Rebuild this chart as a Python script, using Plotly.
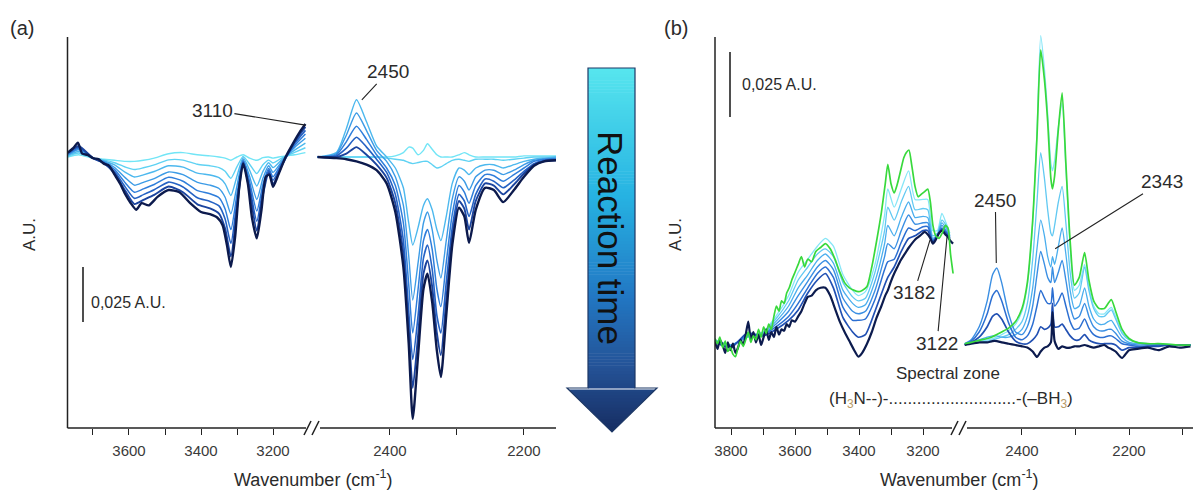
import plotly.graph_objects as go

W, H = 1193, 490

# ---------------- panel (a): spectra along the reaction (light -> dark) ----------------
wn_a_left = [3770, 3740, 3700, 3670, 3640, 3610, 3585, 3560, 3530, 3490, 3450, 3410, 3375,
             3350, 3333, 3317, 3300, 3283, 3265, 3245, 3228, 3212, 3200, 3175, 3140, 3110]
a0_left = [0, 1, -0.5, -1, -1.5, -2, -2, -1.5, -0.5, 1.5, 2, 1, 0.5, 0, -0.5, -1.5, 0, 1, -0.5,
           -1.5, -0.3, 0, -0.5, 0.3, 1, 2]
a1_left = [0.3, 1.8, -0.5, -1.3, -2.6, -4.6, -5.7, -4.9, -3.6, -1.3, -1.4, -3.3, -4.0, -4.8, -6.5,
           -9.7, -4.4, 0.3, -3.3, -7.5, -3.5, -1.4, -2.7, -0.4, 2.1, 4.2]
a2_left = [0.7, 2.5, -0.5, -1.7, -3.6, -7.0, -9.1, -8.1, -6.6, -4.0, -4.6, -7.3, -8.2, -9.4, -12.2,
           -17.5, -8.6, -0.3, -6.0, -13.2, -6.5, -2.6, -4.8, -1.1, 3.1, 6.3]
a3_left = [1.0, 3.3, -0.5, -2.0, -4.8, -9.5, -12.8, -11.5, -9.8, -6.8, -8.0, -11.5, -12.8, -14.3,
           -18.3, -25.8, -13.0, -1.0, -8.8, -19.3, -9.7, -4.0, -7.0, -1.9, 4.3, 8.5]
a4_left = [1.3, 3.9, -0.5, -2.3, -5.7, -11.8, -16.0, -14.5, -12.5, -9.2, -11.0, -15.3, -16.7,
           -18.5, -23.6, -33.0, -16.9, -1.6, -11.2, -24.6, -12.5, -5.2, -9.0, -2.5, 5.2, 10.5]
a5_left = [1.6, 4.5, -0.5, -2.6, -6.6, -13.7, -18.8, -17.1, -14.9, -11.4, -13.6, -18.5, -20.2,
           -22.2, -28.2, -39.3, -20.3, -2.1, -13.4, -29.2, -14.9, -6.2, -10.6, -3.1, 6.1, 12.1]
a6_left = [1.8, 5.0, -0.5, -2.8, -7.4, -15.5, -21.4, -19.5, -17.2, -13.4, -16.0, -21.5, -23.4,
           -25.7, -32.5, -45.2, -23.4, -2.6, -15.4, -33.5, -17.1, -7.2, -12.2, -3.8, 6.9, 13.7]

wn_a_left_last = [3770, 3755, 3742, 3730, 3715, 3700, 3685, 3670, 3655, 3640, 3625, 3610, 3595,
                  3580, 3565, 3545, 3520, 3490, 3460, 3430, 3400, 3375, 3355, 3340, 3328, 3317,
                  3305, 3294, 3283, 3270, 3258, 3245, 3232, 3220, 3210, 3200, 3185, 3165, 3145,
                  3125, 3110]
a7_left = [2, 4, 6.5, 1.5, 1, -0.5, -1, -3, -4, -8, -12, -17, -21, -24, -21, -22, -18, -15, -16,
           -21, -25, -26, -27.5, -31, -40, -50, -36, -14, -3, -12, -28, -37, -24, -9, -8, -13.5,
           -8, 0, 6, 11.5, 15]

wn_a_right = [2508, 2480, 2465, 2450, 2435, 2420, 2405, 2392, 2380, 2372, 2366, 2358, 2350, 2344,
              2337, 2330, 2324, 2316, 2307, 2297, 2289, 2282, 2272, 2258, 2245, 2231, 2215, 2200,
              2185, 2170, 2152]
a0_right = [0, 0, 0, 0, 0, 0, 0, 0.5, 2, 4.5, 4, 1, 3, 6, 3.5, 1, 0, 0, 0, 1, 2, 1, 0, 0, 0, 0, 0,
            0.5, 0.5, 0.5, 0.5]
a1_right = [0, 0, 0, 0, 0, 0, -0.5, -1, -1.5, -2.5, -3, -2.5, -2, -2, -3.5, -5, -4.5, -3, -1.5, -1,
            -1.5, -2, -1, -1, -1, -1.5, -1, -0.5, 0, 0, 0]
a2_right = [0, 2, 13, 26, 16, 5, 0, -5, -14, -30, -40, -32, -22, -19, -24, -33, -38, -27, -12, -5,
            -6, -8, -5, -3.5, -3.5, -5, -3.5, -2, -1, -0.5, 0]
a3_right = [0, 1.5, 10, 20, 12, 3, -2, -9, -22, -45, -65, -48, -30, -25, -33, -47, -55, -38, -19,
            -9, -11, -15, -9, -6, -6, -8, -6, -3.5, -1.5, -1, -0.5]
a4_right = [0, 1, 7, 14, 8, 1, -5, -13, -30, -58, -80, -60, -38, -33, -42, -60, -68, -48, -26, -13,
            -16, -21, -13, -8, -8.5, -11, -8, -5, -2, -1, -1]
a5_right = [0, 0.5, 4, 9, 4.5, -1, -7, -17, -38, -70, -92, -72, -46, -40, -51, -72, -80, -57, -32,
            -17, -20, -27, -17, -10, -11, -14, -10.5, -6.5, -3, -1.5, -1]
a6_right = [0, 0, 1.5, 4.5, 1, -3.5, -9.5, -21, -44, -78, -105, -81, -53, -47, -59, -80, -90, -65,
            -36, -20, -23.5, -33, -20, -12, -13, -17, -12.5, -7.5, -3.5, -2, -1.5]
a7_right = [0, -0.5, -1, -2, -3.5, -6, -12, -25, -50, -85, -119, -90, -60, -53, -66, -88, -100, -72,
            -40, -23, -27, -39, -24, -14, -15, -20.5, -15, -9, -4, -2, -1.5]

a_colors = ["#72e5f6", "#5fd2f3", "#4cb8ee", "#3c9be6", "#2f7edb", "#2562c4", "#1b449f", "#0c1a4d"]
a_widths = [1.4, 1.4, 1.4, 1.4, 1.5, 1.6, 1.9, 2.4]

# ---------------- panel (b) ----------------
wn_b_left_fine = [3850, 3842, 3835, 3826, 3818, 3810, 3802, 3794, 3786, 3778, 3770, 3762, 3754,
                  3746, 3738, 3730, 3722, 3714, 3706, 3698, 3690, 3682, 3674, 3666, 3658, 3650,
                  3642, 3634, 3626, 3618, 3610, 3600, 3590, 3580, 3570, 3560, 3548, 3535, 3520,
                  3505, 3490, 3475, 3460, 3445, 3430, 3415, 3402, 3390, 3375, 3360, 3345, 3330,
                  3318, 3310, 3300, 3290, 3280, 3270, 3260, 3252, 3244, 3235, 3225, 3215, 3205,
                  3195, 3185, 3177, 3169, 3160, 3150, 3140, 3130, 3122, 3114, 3106]
green_left = [2.5, 0.5, 3, -1, 1.5, -2.5, -1, -3.5, -4.5, -1,
              1.5, -0.5, 2, 5, 1, 3.5, 2, 6, 3, 7,
              4.5, 8, 6, 11, 15, 13, 17, 16, 20, 22,
              25, 28, 31, 34, 30, 33, 32, 36, 37.5, 39,
              37, 33, 28, 24, 22, 21, 20.5, 21, 22.5, 30,
              40, 51, 62, 69.5, 62, 58.5, 62, 67, 72, 74,
              75, 69, 61, 57, 58, 59, 60, 55, 46, 42,
              41, 43, 46, 45, 35, 27.5]
b7_left = [1, -1.5, 2, 0, -3, 1, -2, 0.5, -3, -1,
           2, 0, 4, 9, 2, 5, 1, 4, 0, 3,
           6, 2, 5, 3, 7, 4, 6, 5.5, 8, 7,
           9.5, 9, 11, 13, 16, 18.5, 19, 21, 22, 22,
           19, 14, 9, 5, 1.5, -2, -4.5, -3, 0.5, 5,
           10.5, 15, 19, 21, 24.5, 27.5, 30, 32.5, 34.5, 36,
           37.5, 39, 40.5, 41.5, 42.5, 43.5, 42.5, 41, 39, 40.5,
           43, 44, 42.5, 41.5, 40, 39]

wn_b_left = [3850, 3800, 3750, 3700, 3660, 3620, 3590, 3560, 3530, 3505, 3480, 3450, 3420, 3402,
             3380, 3350, 3320, 3310, 3290, 3268, 3245, 3225, 3200, 3185, 3170, 3155, 3141, 3128,
             3116]
b1_left = [2, 0, 3, 5, 11, 19, 28, 33, 38, 41, 38, 27, 21, 19, 20.5, 31, 50, 60, 53, 60, 67, 56,
           56, 56, 44, 44, 50.6, 47, 43]
b2_left = [2, 0, 3, 5, 10, 17, 25, 30, 35, 37, 34, 24, 18.5, 17, 18, 28, 44, 53, 48, 55, 61, 52,
           52.5, 52, 42, 43, 48, 46, 42]
b3_left = [1.5, 0, 3, 4.5, 9, 15, 22, 27, 32.5, 35, 31.5, 21, 16, 14.5, 15.5, 24.5, 39, 46, 42,
           49, 55, 49, 49.5, 49, 41, 42.5, 47, 45, 42]
b4_left = [1.5, -0.5, 3.5, 4, 8, 13, 19, 24.5, 30, 32.5, 29, 18, 13, 12, 13, 21, 34, 39, 37, 44,
           50, 46.5, 47, 47, 40.5, 42, 46, 44, 41.5]
b5_left = [1, -0.5, 4, 4, 7, 11, 16, 22, 27.5, 30, 26, 14.5, 9.5, 9.5, 10, 17.5, 29, 32, 33, 39.5,
           45, 44, 45.5, 45.5, 40, 42, 45, 43.5, 41]
b6_left = [1, -1, 4.5, 3.5, 6, 9.5, 13.5, 20, 25, 27.5, 22, 10.5, 5, 3, 4, 13, 23, 26, 30, 36, 41,
           42, 44, 44, 39.5, 42, 44.5, 43, 41]

wn_b_right = [2507, 2495, 2480, 2465, 2455, 2447, 2438, 2425, 2412, 2400, 2390, 2380, 2372, 2365,
              2358, 2352, 2346, 2343, 2339, 2332, 2325, 2318, 2310, 2302, 2293, 2283, 2275, 2266,
              2256, 2246, 2239, 2233, 2225, 2213, 2200, 2185, 2165, 2145, 2125, 2105, 2085]
green_right = [0.5, 1, 1.8, 2.5, 3.2, 4, 5, 6.5, 9, 14, 24, 48, 80, 113.5, 102, 86, 64, 60, 65, 83,
               97, 70, 40, 23, 26, 35.5, 25, 17, 14, 14, 16, 17.5, 13, 6, 2.5, 1, 0.5, 0.5, 0.3,
               0, 0]
b1_right = [0.5, 1, 1.5, 2, 2.5, 3, 4, 5.5, 8, 13, 23, 47, 82, 119, 106, 89, 70, 67, 71, 84, 93,
            68, 38, 21, 23, 31, 22, 15, 12, 12, 13.5, 14.5, 11, 5, 2, 1, 0.5, 0.5, 0.3, 0, 0]
b2_right = [0.5, 0.5, 1, 1.5, 2, 2.5, 3, 4, 6, 9, 16, 33, 55, 74, 64, 52, 43, 42, 46, 55, 61, 47,
            28, 18, 20, 30, 21, 14, 11, 11, 12.5, 13.5, 10, 4.5, 2, 1, 0.5, 0.3, 0, 0, 0]
b3_right = [0, 1, 2, 3, 3.5, 3.5, 3, 3, 4, 6, 11, 22, 37, 48, 42, 34, 30, 34, 31, 38, 45, 35, 21,
            14, 15, 22, 15, 10, 8, 8, 9, 9.5, 7, 3, 1, 0.5, 0.3, 0, 0, 0, 0]
b4_right = [0.5, 2, 7, 17, 27, 29.6, 24, 12, 5, 4, 7, 15, 27, 36, 31, 26, 24, 30, 24, 28, 32.5,
            25, 15, 10, 11, 16, 11, 7, 5.5, 5.5, 6, 6, 4.5, 1.5, 0.5, 0, 0, 0, 0, 0, 0]
b5_right = [0.3, 1.5, 5, 12, 19, 21, 17, 8.5, 3, 2, 3.5, 8, 15, 21, 18, 16, 16, 22, 15, 17, 20, 15,
            9, 6, 6.5, 10, 6.5, 4, 3, 3, 3.5, 3.5, 2.5, 0.5, 0, -0.5, -0.5, 0, 0, 0, 0]
b6_right = [0, 1, 3, 7, 11, 12, 10, 5, 1.5, 0.5, 0.5, 2, 4, 7, 6, 6.5, 8, 16, 7, 7, 8, 6, 3.5, 2,
            2, 4, 2, 1, 0.5, 0.5, 0.5, 0.5, 0, -2, -1, -1, -0.5, -0.5, 0, 0, 0]
b7_right = [0, 0.5, 1, 1, 1.5, 1.5, 1, 0.5, 0, -0.5, -1, -2.5, -4.6, -2.5, -1, -0.5, 1, 12.7, 1.5,
            -1.5, -0.5, -1, -1, -0.5, -0.5, 0, -0.5, -1, -0.5, 0, -1, -1.5, -2.5, -5, -2, -1.5,
            -1, -2, -0.5, -1, -0.5]

b_colors = ["#86e6f7", "#62c9f2", "#4aaeee", "#3b8fe3", "#2c6fd2", "#2150b3", "#0c1b4e"]
b_widths = [1.3, 1.3, 1.3, 1.4, 1.5, 1.7, 2.2]
green_color = "#38d93c"

scale_bar = 25  # 0,025 A.U. expressed in 10^-3 A.U.

a_ticks_left = [3600, 3400, 3200]
a_labels_left = ["3600", "3400", "3200"]
a_minor_left = [3700, 3500, 3300]
a_ticks_right = [2400, 2200]
a_labels_right = ["2400", "2200"]
a_minor_right = [2300]
b_ticks_left = [3800, 3600, 3400, 3200]
b_labels_left = ["3800", "3600", "3400", "3200"]
b_minor_left = [3700, 3500, 3300]
b_ticks_right = [2400, 2200]
b_labels_right = ["2400", "2200"]
b_minor_right = [2300, 2100]


def px(x):
    return x / W


def py(y):
    return 1 - y / H


FONT = "Arial, 'Liberation Sans', sans-serif"
TXT = "#2b2b2b"

fig = go.Figure()


def add_line(x, y, xa, ya, color, width):
    fig.add_trace(go.Scatter(x=x, y=y, xaxis=xa, yaxis=ya, mode="lines",
                             line=dict(color=color, width=width, shape="spline", smoothing=0.6),
                             hoverinfo="skip", showlegend=False))


# panel (a)
a_left_sets = [a0_left, a1_left, a2_left, a3_left, a4_left, a5_left, a6_left]
a_right_sets = [a0_right, a1_right, a2_right, a3_right, a4_right, a5_right, a6_right, a7_right]
for i, ys in enumerate(a_left_sets):
    add_line(wn_a_left, ys, "x", "y", a_colors[i], a_widths[i])
add_line(wn_a_left_last, a7_left, "x", "y", a_colors[7], a_widths[7])
for i, ys in enumerate(a_right_sets):
    add_line(wn_a_right, ys, "x2", "y", a_colors[i], a_widths[i])

# panel (b)
b_left_sets = [b1_left, b2_left, b3_left, b4_left, b5_left, b6_left]
b_right_sets = [b1_right, b2_right, b3_right, b4_right, b5_right, b6_right, b7_right]
for i, ys in enumerate(b_left_sets):
    add_line(wn_b_left, ys, "x3", "y2", b_colors[i], b_widths[i])
add_line(wn_b_left_fine, b7_left, "x3", "y2", b_colors[6], b_widths[6])
for i, ys in enumerate(b_right_sets):
    add_line(wn_b_right, ys, "x4", "y2", b_colors[i], b_widths[i])
add_line(wn_b_left_fine, green_left, "x3", "y2", green_color, 1.7)
add_line(wn_b_right, green_right, "x4", "y2", green_color, 1.7)


def xaxis_cfg(domain, rng, vals, texts, minor_vals, anchor):
    return dict(domain=domain, range=rng, anchor=anchor, tickmode="array", tickvals=vals,
                ticktext=texts, ticks="outside", ticklen=6, tickwidth=1.3, tickcolor="#222",
                minor=dict(tickmode="array", tickvals=minor_vals, ticks="outside", ticklen=6,
                           tickwidth=1.3, tickcolor="#222", showgrid=False),
                showline=False, showgrid=False, zeroline=False, ticklabelstandoff=3,
                tickfont=dict(family=FONT, size=15, color="#3a3a3a"))


def yaxis_cfg(rng):
    return dict(domain=[py(428), 1.0], range=rng, showticklabels=False, ticks="",
                showgrid=False, zeroline=False, showline=False)


fig.update_layout(
    width=W, height=H, margin=dict(l=0, r=0, t=0, b=0),
    paper_bgcolor="white", plot_bgcolor="white", showlegend=False,
    font=dict(family=FONT, color=TXT),
    xaxis=xaxis_cfg([px(67.5), px(312)], [3770.8, 3091.7], a_ticks_left, a_labels_left,
                    a_minor_left, "y"),
    xaxis2=xaxis_cfg([px(316), px(556)], [2510.4, 2152.2], a_ticks_right, a_labels_right,
                     a_minor_right, "y"),
    xaxis3=xaxis_cfg([px(715), px(955)], [3850, 3100], b_ticks_left, b_labels_left,
                     b_minor_left, "y2"),
    xaxis4=xaxis_cfg([px(962), 1.0], [2512.1, 2080.4], b_ticks_right, b_labels_right,
                     b_minor_right, "y2"),
    yaxis=yaxis_cfg([-123.18, 71.36]),
    yaxis2=yaxis_cfg([-31.92, 132.69]),
)

shapes = []
frame = dict(color="#222", width=1.5)


def seg(x0, y0, x1, y1, line=frame):
    shapes.append(dict(type="line", xref="paper", yref="paper", x0=px(x0), y0=py(y0),
                       x1=px(x1), y1=py(y1), line=line))


# axis frames with broken x axes
seg(67.5, 37, 67.5, 428)
seg(67.5, 428, 306, 428)
seg(320, 428, 556, 428)
seg(304, 435, 311, 421)
seg(312, 435, 319, 421)
seg(715, 37, 715, 428)
seg(715, 428, 952, 428)
seg(967, 428, 1193, 428)
seg(951, 435, 958, 421)
seg(959, 435, 966, 421)

# scale bars
shapes.append(dict(type="line", xref="paper", yref="y", x0=px(83), x1=px(83), y0=-50,
                   y1=-50 - scale_bar, line=dict(color="#222", width=1.6)))
shapes.append(dict(type="line", xref="paper", yref="y2", x0=px(730), x1=px(730), y0=112.7,
                   y1=112.7 - scale_bar, line=dict(color="#222", width=1.6)))

# "Reaction time" arrow with vertical gradient
stops = [(0.0, (86, 229, 238)), (0.35, (38, 178, 226)), (0.62, (34, 120, 196)),
         (0.82, (36, 82, 150)), (1.0, (22, 44, 96))]


def grad(t):
    for (t0, c0), (t1, c1) in zip(stops[:-1], stops[1:]):
        if t <= t1:
            f = (t - t0) / (t1 - t0)
            return "rgb(%d,%d,%d)" % tuple(round(a + (b - a) * f) for a, b in zip(c0, c1))
    return "rgb(%d,%d,%d)" % stops[-1][1]


top, neck, tip = 68, 388, 432
sx0, sx1, hx0, hx1 = 588, 635, 567, 657
cx = (hx0 + hx1) / 2
n = 120


def half(y):
    return (hx1 - hx0) / 2 * max(tip - y, 0) / (tip - neck)


for k in range(n):
    y0 = top + (tip - top) * k / n
    y1 = top + (tip - top) * (k + 1) / n + 0.6
    col = grad((y0 - top) / (tip - top))
    if y0 < neck:
        y1 = min(y1, neck + 0.6)
        path = "M %f %f L %f %f L %f %f L %f %f Z" % (px(sx0), py(y0), px(sx1), py(y0),
                                                      px(sx1), py(y1), px(sx0), py(y1))
    else:
        y1 = min(y1, tip)
        path = "M %f %f L %f %f L %f %f L %f %f Z" % (
            px(cx - half(y0)), py(y0), px(cx + half(y0)), py(y0),
            px(cx + half(y1)), py(y1), px(cx - half(y1)), py(y1))
    shapes.append(dict(type="path", xref="paper", yref="paper", path=path, fillcolor=col,
                       line=dict(width=0), layer="above"))
outline = "M %f %f L %f %f L %f %f L %f %f L %f %f L %f %f L %f %f Z" % (
    px(sx0), py(top), px(sx1), py(top), px(sx1), py(neck), px(hx1), py(neck),
    px(cx), py(tip), px(hx0), py(neck), px(sx0), py(neck))
shapes.append(dict(type="path", xref="paper", yref="paper", path=outline,
                   line=dict(color="#1d3866", width=1.2), layer="above"))

fig.update_layout(shapes=shapes)

ann = []


def text(x, y, s, size, anchor="center", angle=0, color=TXT):
    ann.append(dict(xref="paper", yref="paper", x=px(x), y=py(y), text=s, showarrow=False,
                    xanchor=anchor, yanchor="middle", textangle=angle,
                    font=dict(family=FONT, size=size, color=color)))


def callout(xref, yref, x, y, s, ax, ay):
    ann.append(dict(xref=xref, yref=yref, x=x, y=y, text=s, showarrow=True, arrowhead=0,
                    arrowwidth=1.1, arrowcolor="#222", ax=ax, ay=ay, standoff=0,
                    font=dict(family=FONT, size=19, color=TXT)))


text(22, 28, "(a)", 20)
text(676, 28, "(b)", 20)
text(29, 235, "A.U.", 17, angle=-90)
text(675, 235, "A.U.", 17, angle=-90)
text(89, 302, "0,025 A.U.", 16, anchor="left")
text(740, 85, "0,025 A.U.", 16, anchor="left")
text(313, 478, "Wavenumber (cm<sup>-1</sup>)", 18)
text(960, 478, "Wavenumber (cm<sup>-1</sup>)", 18)
text(611, 238, "Reaction time", 35, angle=90, color="#111")
text(948, 373, "Spectral zone", 17)
sub = "<span style='color:#b89a66'>3</span>"
text(951, 400, "(H<sub>%s</sub>N--)-%s-(–BH<sub>%s</sub>)" % (sub, "." * 27, sub), 17)

callout("x", "y", 3110, 14.5, "3110", -93, -15)
callout("x2", "y", 2442, 26, "2450", 26, -28)
callout("x4", "y2", 2448, 31.5, "2450", -1, -63)
callout("x4", "y2", 2338, 37, "2343", 107, -67)
callout("x3", "y2", 3178, 40.4, "3182", -16, 53)
callout("x3", "y2", 3125, 41.5, "3122", -10, 106)

fig.update_layout(annotations=ann)

fig.write_html("out.html")
